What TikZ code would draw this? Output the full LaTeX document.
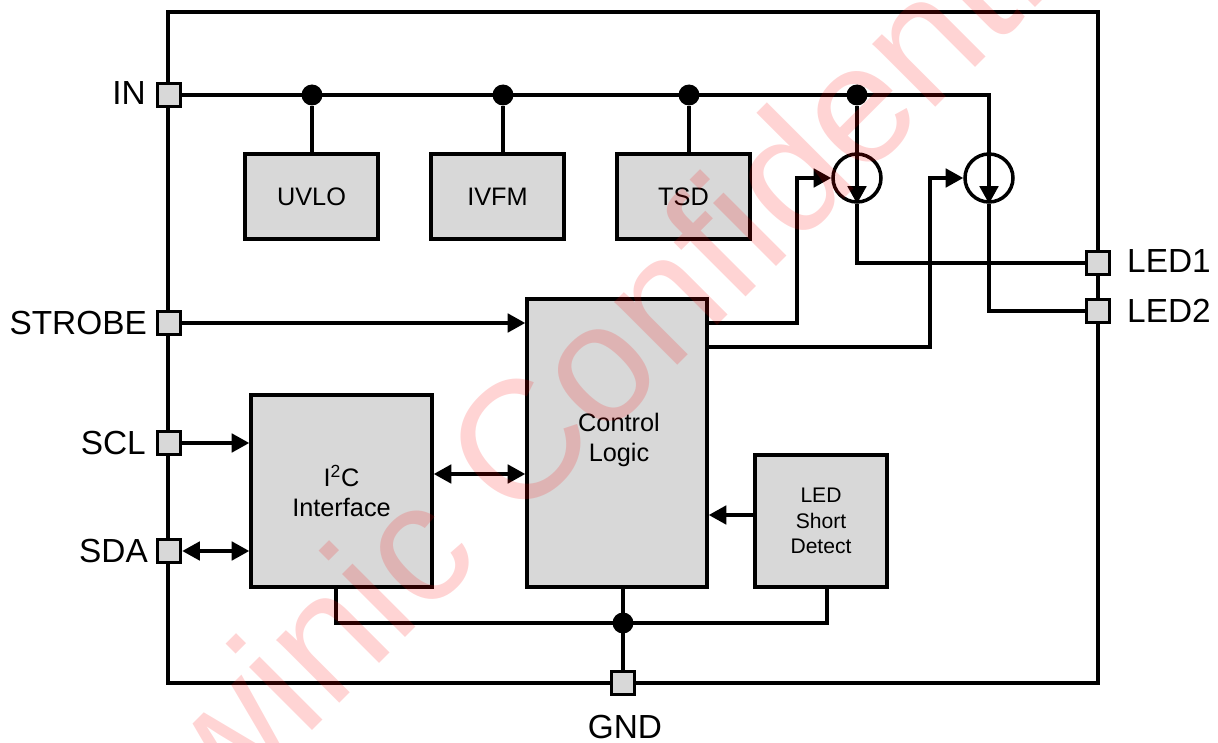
\documentclass[tikz,border=0pt]{standalone}
\usepackage{fontspec}
\setmainfont{Liberation Sans}
\usetikzlibrary{arrows.meta}
\definecolor{boxgray}{HTML}{D8D8D8}
\tikzset{
    wire/.style={line width=2pt},
    block/.style={draw, line width=2pt, fill=boxgray, inner sep=0pt, align=center},
    pinbox/.style={draw, line width=2pt, fill=boxgray, inner sep=0pt, minimum size=0.46cm},
    junction/.style={circle, fill=black, inner sep=0pt, minimum size=0.42cm},
    source/.style={circle, draw, line width=2pt, inner sep=0pt, minimum size=0.96cm},
    pintext/.style={font=\fontsize{19}{23}\selectfont},
    blocktext/.style={font=\fontsize{14.4}{17}\selectfont},
    smalltext/.style={font=\fontsize{12}{14.5}\selectfont}
}
\begin{document}
\begin{tikzpicture}[x=0.02cm, y=-0.02cm, >={Triangle[length=10pt,width=10.5pt]}]
    \useasboundingbox (0,0) rectangle (1218,743);

    % Chip outline
    \node[draw, line width=2pt, minimum width=18.6cm, minimum height=13.42cm, inner sep=0pt] (chip) at (633,347.5) {};

    % Pins
    \node[pinbox] (inpin) at (169,95) {};
    \node[pinbox] (strobepin) at (169,323) {};
    \node[pinbox] (sclpin) at (169,443) {};
    \node[pinbox] (sdapin) at (169,551) {};
    \node[pinbox] (ledonepin) at (1098,263) {};
    \node[pinbox] (ledtwopin) at (1098,311) {};
    \node[pinbox] (gndpin) at (623,683) {};

    \node[pintext, anchor=east] (intext) at (152,93) {IN};
    \node[pintext, anchor=east] (strobetext) at (153,323) {STROBE};
    \node[pintext, anchor=east] (scltext) at (152,443) {SCL};
    \node[pintext, anchor=east] (sdatext) at (154,551) {SDA};
    \node[pintext, anchor=west] (ledonetext) at (1121,261) {LED1};
    \node[pintext, anchor=west] (ledtwotext) at (1121,311) {LED2};
    \node[pintext] (gndtext) at (625,727) {GND};

    % Blocks
    \node[block, blocktext, minimum width=2.66cm, minimum height=1.7cm] (uvlo) at (311.5,196.5) {UVLO};
    \node[block, blocktext, minimum width=2.66cm, minimum height=1.7cm] (ivfm) at (497.5,196.5) {IVFM};
    \node[block, blocktext, minimum width=2.66cm, minimum height=1.7cm] (tsd) at (683.5,196.5) {TSD};
    \node[block, minimum width=3.6cm, minimum height=5.76cm] (ctrl) at (617,443) {};
    \node[blocktext, align=center] (ctrltext) at (619,440) {Control\\Logic};
    \node[block, blocktext, minimum width=3.62cm, minimum height=3.84cm] (itwoc) at (341.5,491) {I\textsuperscript{2}C\\Interface};
    \node[block, smalltext, minimum width=2.64cm, minimum height=2.64cm] (short) at (821,521) {LED\\Short\\Detect};

    % Junctions and current sources
    \node[junction] (dotuvlo) at (312,95) {};
    \node[junction] (dotivfm) at (503,95) {};
    \node[junction] (dottsd) at (689,95) {};
    \node[junction] (dotsrc) at (857,95) {};
    \node[junction] (dotgnd) at (623,623) {};
    \node[source] (srcone) at (857,178) {};
    \node[source] (srctwo) at (989,178) {};
    \coordinate (outone) at (707,323);
    \coordinate (outtwo) at (707,347);
    \coordinate (gndleft) at (336,587);
    \coordinate (gndright) at (827,587);
    \coordinate (riseone) at (797,323);
    \coordinate (risetwo) at (930,347);

    % Supply rail
    \draw[wire, ->] (inpin) -- (inpin -| srctwo) -- (srctwo.south);
    \draw[wire] (dotuvlo) -- (dotuvlo |- uvlo.north);
    \draw[wire] (dotivfm) -- (dotivfm |- ivfm.north);
    \draw[wire] (dottsd) -- (dottsd |- tsd.north);
    \draw[wire, ->] (dotsrc) -- (srcone.south);

    % Outputs
    \draw[wire] (srcone.south) -- (srcone.south |- ledonepin) -- (ledonepin);
    \draw[wire] (srctwo.south) -- (srctwo.south |- ledtwopin) -- (ledtwopin);
    \draw[wire, ->] (outone) -- (riseone) -- (riseone |- srcone) -- (srcone.west);
    \draw[wire, ->] (outtwo) -- (risetwo) -- (risetwo |- srctwo) -- (srctwo.west);

    % Control signals
    \draw[wire, ->] (strobepin) -- (strobepin -| ctrl.west);
    \draw[wire, ->] (sclpin) -- (sclpin -| itwoc.west);
    \draw[wire, <->] (sdapin) -- (sdapin -| itwoc.west);
    \draw[wire, <->] (itwoc.east |- 0,474) -- (ctrl.west |- 0,474);
    \draw[wire, ->] (short.west |- 0,515) -- (ctrl.east |- 0,515);

    % Ground
    \draw[wire] (gndleft) -- (gndleft |- dotgnd) -- (gndright |- dotgnd) -- (gndright);
    \draw[wire] (dotgnd |- ctrl.south) -- (gndpin);

    % Watermark
    \node[red, text opacity=0.17, rotate=45, anchor=base west, inner sep=0pt, font=\fontsize{96}{96}\selectfont] (mark) at (141,902) {Awinic Confidential};
\end{tikzpicture}
\end{document}
